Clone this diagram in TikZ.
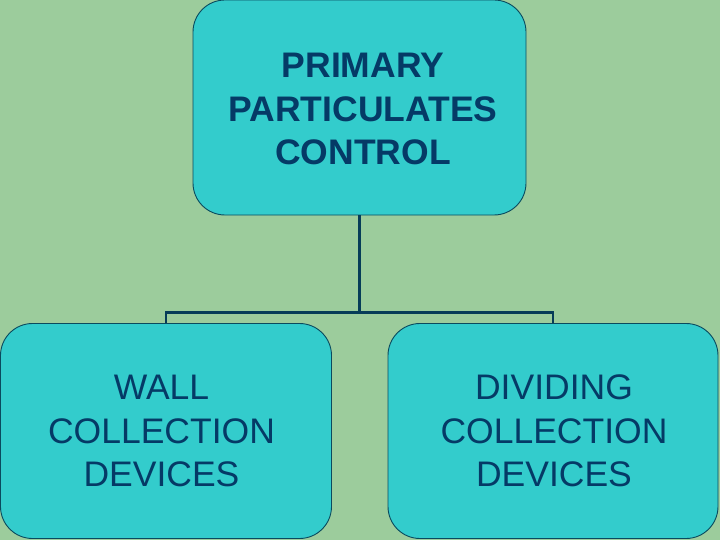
\documentclass[tikz,border=0pt]{standalone}
\usepackage{fontspec}
\setmainfont{Liberation Sans}
\usetikzlibrary{calc}
\definecolor{bg}{HTML}{9CCC9C}
\definecolor{boxfill}{HTML}{33CCCC}
\definecolor{boxline}{HTML}{0A4A5E}
\definecolor{txt}{HTML}{053A66}
\definecolor{conn}{HTML}{063C58}
\tikzset{
  card/.style={draw=boxline, line width=0.9bp, fill=boxfill, rounded corners=32bp,
    minimum width=#1, minimum height=215bp, inner sep=0pt},
  headtxt/.style={font=\fontsize{35.5bp}{43.3bp}\selectfont\bfseries, align=center, text=txt, inner sep=0pt},
  subtxt/.style={font=\fontsize{35.5bp}{43.5bp}\selectfont, align=center, text=txt, inner sep=0pt},
  link/.style={draw=conn, line width=2.6bp}
}
\begin{document}
\begin{tikzpicture}[x=1bp,y=-1bp]
\fill[bg] (0,0) rectangle (720,540);
\useasboundingbox (0,0) rectangle (720,540);
\node[card=333bp] (top) at (359.5,107.5) {};
\node[card=331bp] (left) at (166,431) {};
\node[card=330bp] (right) at (553,431) {};
\node[headtxt] (toptext) at ($(top.center)+(3.5,1.5)$) {PRIMARY\\PARTICULATES\\CONTROL};
\node[subtxt] (lefttext) at ($(left.center)+(-4.5,0)$) {WALL\\COLLECTION\\DEVICES};
\node[subtxt] (righttext) at ($(right.center)+(1,0)$) {DIVIDING\\COLLECTION\\DEVICES};
\coordinate (j) at ($(top.south)+(0,97)$);
\draw[link] (top.south) -- (j);
\draw[link] (left.north) |- (j) -| (right.north);
\end{tikzpicture}
\end{document}
